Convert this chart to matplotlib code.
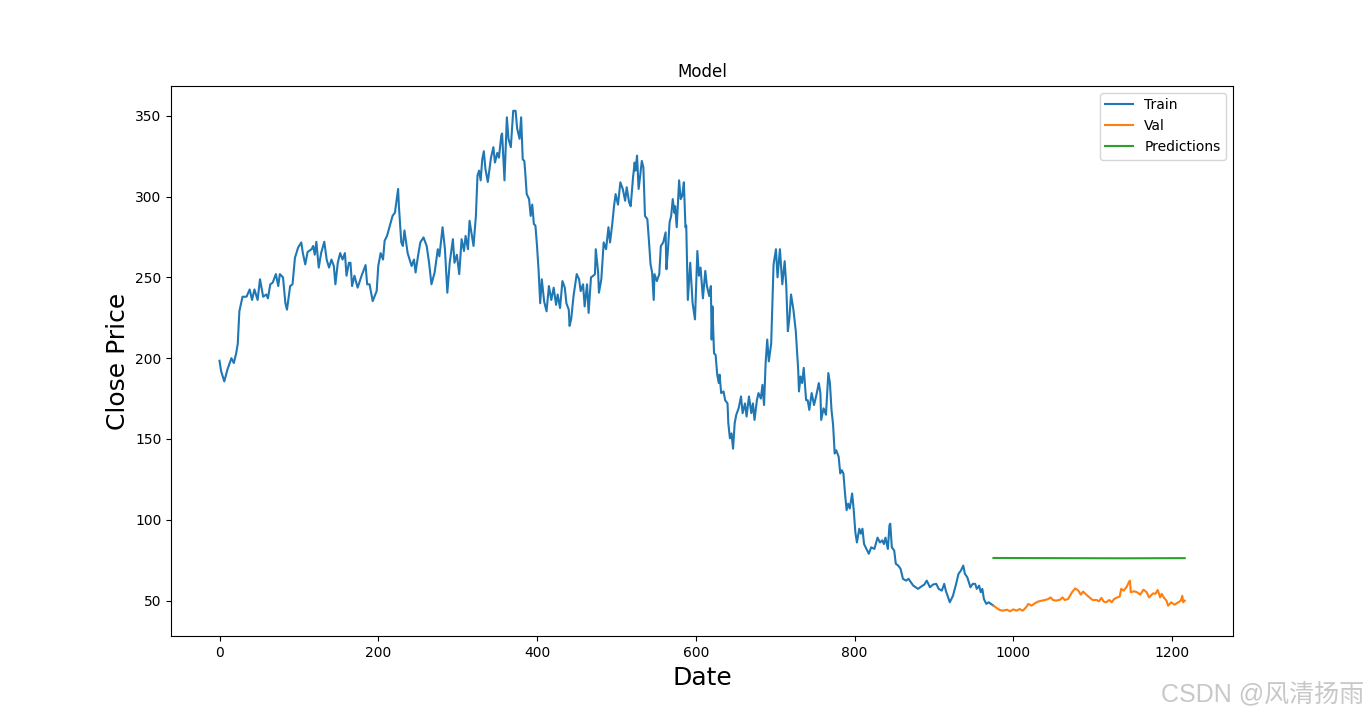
import matplotlib
matplotlib.use("Agg")
import matplotlib.pyplot as plt

# Train series (index, close price)
train_idx = [0, 2, 6, 10, 15, 18, 21, 23, 25, 29, 34, 38, 41, 44, 48, 51, 55, 59, 61, 64, 67, 71, 74, 76, 80,
             83, 85, 89, 92, 95, 99, 103, 105, 108, 111, 116, 118, 120, 122, 125, 128, 132, 135, 138, 141, 144,
             146, 149, 152, 155, 158, 160, 163, 165, 167, 170, 174, 179, 184, 186, 189, 193, 198, 200, 203, 206,
             208, 211, 214, 218, 221, 225, 226, 229, 231, 233, 237, 242, 245, 247, 250, 253, 257, 261, 264, 267,
             271, 275, 277, 281, 284, 287, 290, 294, 296, 299, 302, 305, 308, 310, 313, 315, 318, 320, 323, 325,
             327, 329, 331, 333, 335, 338, 342, 345, 347, 350, 352, 355, 356, 359, 362, 364, 367, 370, 373, 375,
             378, 380, 382, 384, 385, 387, 390, 392, 394, 396, 398, 400, 402, 404, 406, 409, 412, 415, 418, 421,
             424, 426, 429, 432, 435, 437, 440, 441, 443, 446, 450, 453, 455, 458, 460, 463, 465, 468, 471, 473,
             474, 477, 478, 481, 484, 487, 490, 492, 495, 497, 499, 502, 505, 508, 511, 513, 516, 518, 521, 523,
             524, 526, 528, 530, 532, 534, 536, 539, 541, 543, 545, 547, 548, 551, 554, 556, 559, 562, 563, 565,
             567, 569, 571, 573, 574, 576, 579, 581, 583, 585, 587, 588, 590, 593, 596, 599, 602, 604, 606, 609,
             612, 614, 617, 619, 620, 621, 623, 625, 627, 629, 630, 632, 635, 637, 640, 641, 643, 645, 647, 649,
             651, 654, 657, 659, 662, 664, 667, 670, 672, 674, 677, 679, 682, 684, 686, 688, 690, 692, 695, 698,
             701, 703, 706, 709, 712, 714, 716, 718, 720, 723, 726, 729, 730, 732, 734, 736, 739, 741, 743, 746,
             749, 752, 755, 757, 758, 761, 764, 767, 769, 771, 773, 775, 777, 780, 782, 784, 786, 788, 790, 792,
             794, 797, 799, 801, 803, 806, 808, 810, 812, 815, 818, 821, 825, 829, 832, 835, 837, 839, 842, 844,
             845, 847, 850, 852, 855, 858, 861, 865, 868, 871, 874, 877, 880, 884, 888, 891, 895, 899, 903, 906,
             910, 913, 915, 920, 924, 928, 931, 934, 937, 939, 942, 946, 949, 952, 954, 957, 959, 961, 963, 966,
             969, 975]
train_close = [198.4, 192, 185.6, 193, 200, 197, 203, 209, 229, 238, 238, 242.5, 236, 242.5, 236, 248.8, 238,
               239.4, 237, 245.7, 246.7, 252, 244.6, 252, 250, 234, 230, 244.6, 245.7, 262, 268.4, 271.6, 265,
               258, 265.7, 267.4, 269.4, 264, 272, 256, 265, 272, 261, 256, 261, 257, 245.7, 259, 265, 261, 265,
               251, 259, 259, 244.6, 251, 243.6, 251, 257.6, 245.7, 245.7, 235.3, 241.5, 257, 265, 261, 272.6,
               275.6, 281, 288, 290, 304.7, 294, 271.6, 269.4, 279, 265, 257, 261, 253, 263, 271.6, 274.7, 269.4,
               259, 245.7, 253, 267.4, 263, 281, 267.4, 240.5, 259, 273.6, 259, 264, 252, 273.6, 266.3, 275.6,
               267.4, 285, 275.6, 269.4, 288, 313, 316, 310, 323, 328, 317, 309, 324, 330.5, 321, 327, 324,
               337.8, 339, 310, 349, 335.7, 330.5, 353, 353, 342, 335.7, 349, 323, 322, 316, 301.5, 298.4, 288,
               295, 283, 282, 269.4, 254, 234, 248.8, 235, 229, 244.6, 236, 243.6, 233, 239.4, 231, 247.7, 243.6,
               234, 230, 220, 224, 238.4, 252, 248.8, 241.5, 245.7, 232, 245.7, 228, 250, 251, 252, 267.4, 253,
               240.5, 248.8, 271.6, 267.4, 281, 271.6, 284, 294, 301.5, 295, 308.8, 304.7, 297.4, 305.7, 296.4,
               294, 312, 321, 316, 325.3, 304.7, 313, 322, 318, 288, 286, 272.6, 258, 253, 236, 252, 247.7, 252,
               269.4, 271.6, 277.8, 255, 267.4, 284, 288, 298.4, 290, 294, 281, 310, 298.4, 300.5, 308.8, 281,
               282, 236, 259, 234, 224, 266.3, 251, 256, 237, 254, 244.6, 238.4, 244.6, 211.5, 232, 203, 202,
               189.8, 184.6, 189.8, 178.4, 179.4, 174, 172, 159.7, 150.4, 153.5, 144, 159.7, 165, 169, 176.3,
               166, 172, 163.9, 176.3, 166, 172, 161.8, 174, 178.4, 175, 183.5, 171, 197, 211.5, 198, 209, 258,
               267.4, 250, 267.4, 245.7, 260, 244.6, 216.7, 225, 239.4, 230, 216.7, 193, 179.4, 188.7, 184.6,
               194, 174, 174, 168, 178.4, 171, 177.3, 184.6, 178.4, 161.8, 169, 165, 190.8, 184.6, 168, 158.7,
               141, 143, 139, 128.7, 130.7, 128.7, 116.3, 106, 110, 107, 116.3, 106, 92.4, 86, 94.5, 91.4, 94.5,
               85, 82, 79, 83, 82, 89, 86, 87.3, 85, 89, 82, 96.6, 97.6, 83, 81, 72.8, 71.7, 69.7, 63.5, 62.4,
               63.5, 61.4, 59.3, 58.3, 57.3, 58.7, 60, 62.4, 58.3, 60, 60.4, 57.3, 56.2, 60.4, 56.2, 49, 53,
               60.4, 66.6, 68.6, 71.7, 66.6, 64.5, 58.3, 60.4, 60.4, 57.3, 59.3, 55.2, 57.3, 51, 48, 49, 46.9]

# Validation series
val_idx = [975, 979, 983, 987, 992, 996, 1000, 1004, 1008, 1012, 1016, 1019, 1023, 1027, 1031, 1036, 1040,
           1044, 1047, 1050, 1054, 1059, 1062, 1065, 1069, 1074, 1078, 1082, 1085, 1088, 1092, 1096, 1100,
           1105, 1108, 1111, 1114, 1117, 1121, 1124, 1127, 1131, 1134, 1136, 1139, 1143, 1146, 1147, 1148,
           1152, 1156, 1160, 1164, 1168, 1171, 1176, 1179, 1182, 1185, 1187, 1190, 1193, 1195, 1199, 1203,
           1208, 1211, 1213, 1214, 1216]
val_close = [46.9, 45.5, 44.2, 43.8, 44.4, 43.4, 44.6, 43.8, 44.8, 43.8, 45.8, 48, 46.9, 48.3, 49.4, 50,
             50.4, 51, 52, 50.4, 50, 50.6, 52, 50.4, 51, 55.2, 57.6, 56.2, 53.7, 55.6, 53.7, 52, 50.4, 50.4,
             49.6, 51.7, 49.4, 49, 50.4, 49, 51, 52, 52.5, 57.3, 56.2, 58.7, 61.8, 62.4, 55.2, 55.8, 55.2,
             53.7, 56.8, 55.2, 52, 54.5, 54.2, 56.6, 52, 54.2, 51.7, 50, 46.9, 49, 47.5, 49, 50, 53, 49, 50]

# Model predictions (almost flat)
pred_idx = [975, 1050, 1140, 1216]
pred_close = [76.4, 76.3, 76.2, 76.3]

fig = plt.figure(figsize=(13.7, 7.15), dpi=100)
plt.title("Model")
plt.xlabel("Date", fontsize=18)
plt.ylabel("Close Price", fontsize=18)
plt.plot(train_idx, train_close)
plt.plot(val_idx, val_close)
plt.plot(pred_idx, pred_close)
plt.legend(["Train", "Val", "Predictions"], loc="upper right")

# watermark
fig.text(0.996, 0.012, "CSDN @风清扬雨", ha="right", va="bottom", fontsize=18, color="#c8c8c8",
         family=["Liberation Sans", "Noto Sans CJK SC"])

plt.savefig("out.png", dpi=100)
